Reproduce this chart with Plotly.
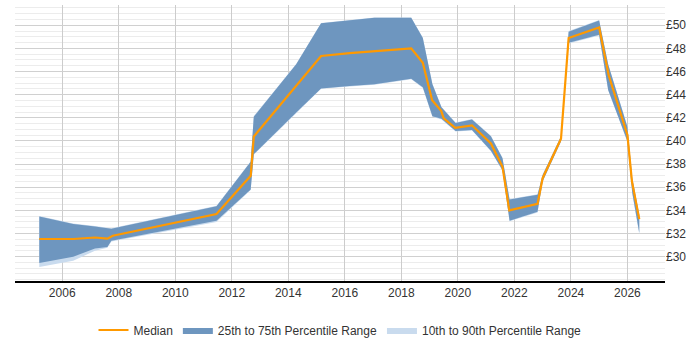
import plotly.graph_objects as go

# Band vertices (decimal year)
band_x = [2005.19, 2006.39, 2007.16, 2007.6, 2007.74, 2011.46, 2012.67, 2012.78, 2014.28,
          2015.16, 2016.17, 2017.05, 2018.35, 2018.76, 2019.1, 2019.42, 2019.92, 2020.5,
          2021.17, 2021.58, 2021.83, 2022.82, 2023.0, 2023.65, 2023.92, 2025.0, 2025.32,
          2026.0, 2026.17, 2026.42]
p75 = [33.46, 32.82, 32.6, 32.45, 32.4, 34.35, 38.2, 42.1, 46.62,
       50.17, 50.42, 50.64, 50.64, 48.89, 44.9, 42.9, 41.55, 41.85,
       40.4, 38.5, 34.93, 35.34, 37.06, 40.38, 49.44, 50.42, 46.6,
       41.21, 36.78, 33.6]
p25 = [29.44, 29.99, 30.69, 30.82, 31.38, 33.1, 35.81, 38.86, 42.45,
       44.54, 44.74, 44.9, 45.37, 44.63, 42.13, 41.91, 40.86, 40.94,
       39.14, 37.47, 33.1, 33.87, 36.51, 39.97, 48.48, 49.17, 44.4,
       39.97, 35.53, 32.07]
p90 = [33.5, 32.86, 32.64, 32.5, 32.45, 34.4, 38.25, 42.15, 46.66,
       50.2, 50.45, 50.67, 50.67, 48.93, 44.95, 42.95, 41.6, 41.9,
       40.45, 38.55, 34.98, 35.4, 37.1, 40.42, 49.5, 50.46, 46.65,
       41.26, 36.82, 33.65]
p10 = [29.1, 29.65, 30.5, 30.77, 31.3, 33.0, 35.75, 38.8, 42.4,
       44.5, 44.7, 44.86, 45.33, 44.58, 42.08, 41.86, 40.82, 40.9,
       39.1, 37.42, 33.05, 33.82, 36.46, 39.92, 48.43, 49.12, 44.35,
       39.9, 35.45, 31.9]

median_x = [2005.19, 2006.39, 2007.16, 2007.6, 2007.79, 2011.46, 2012.67, 2012.78, 2015.16,
            2016.17, 2018.35, 2018.76, 2019.09, 2019.41, 2019.5, 2019.91, 2020.5, 2021.17,
            2021.58, 2021.82, 2022.82, 2023.0, 2023.65, 2023.92, 2025.0, 2025.34, 2026.0,
            2026.16, 2026.42]
median_y = [31.52, 31.52, 31.65, 31.55, 31.8, 33.68, 36.98, 40.38, 47.34,
            47.59, 48.0, 46.76, 43.52, 42.6, 41.96, 41.13, 41.35, 39.78,
            37.76, 34.0, 34.57, 36.78, 40.19, 48.89, 49.8, 45.65, 40.52,
            36.51, 33.24]

x_ticks = list(range(2006, 2027, 2))
y_ticks = list(range(30, 51, 2))
y_labels = ["£%d" % v for v in y_ticks]

fig = go.Figure()

# 10th to 90th
fig.add_trace(go.Scatter(x=band_x, y=p10, mode="lines", line=dict(width=0),
                         showlegend=False, hoverinfo="skip"))
fig.add_trace(go.Scatter(x=band_x, y=p90, mode="lines", line=dict(width=0),
                         fill="tonexty", fillcolor="#c9dbee",
                         name="10th to 90th Percentile Range", legendrank=3))
# 25th to 75th
fig.add_trace(go.Scatter(x=band_x, y=p25, mode="lines", line=dict(width=0),
                         showlegend=False, hoverinfo="skip"))
fig.add_trace(go.Scatter(x=band_x, y=p75, mode="lines", line=dict(width=0),
                         fill="tonexty", fillcolor="#6e96bf",
                         name="25th to 75th Percentile Range", legendrank=2))
# Median
fig.add_trace(go.Scatter(x=median_x, y=median_y, mode="lines",
                         line=dict(color="#ff9900", width=2.2),
                         name="Median", legendrank=1))

fig.update_layout(
    width=700, height=350,
    margin=dict(l=15, r=35, t=5, b=58),
    paper_bgcolor="white", plot_bgcolor="white",
    font=dict(family="Liberation Sans, Arial, sans-serif", size=12, color="#333333"),
    legend=dict(orientation="h", x=0.5, xanchor="center", y=-0.125, yanchor="top",
                traceorder="normal",
                font=dict(size=12, color="#333333"), itemwidth=30),
    xaxis=dict(range=[2004.33, 2027.33], tickvals=x_ticks, ticktext=[str(v) for v in x_ticks],
               showgrid=True, gridcolor="#cccccc", gridwidth=1,
               showline=True, linecolor="#000000", linewidth=1.5,
               ticks="", zeroline=False, tickfont=dict(size=12, color="#333333")),
    yaxis=dict(range=[27.89, 51.75], side="right", tickvals=y_ticks, ticktext=y_labels,
               showgrid=True, gridcolor="#d0d0d0", gridwidth=1,
               minor=dict(dtick=0.5, tick0=0, showgrid=True, gridcolor="#ececec", gridwidth=1),
               showline=False, ticks="", zeroline=False,
               tickfont=dict(size=12, color="#333333")),
)

fig.write_html("out.html")
